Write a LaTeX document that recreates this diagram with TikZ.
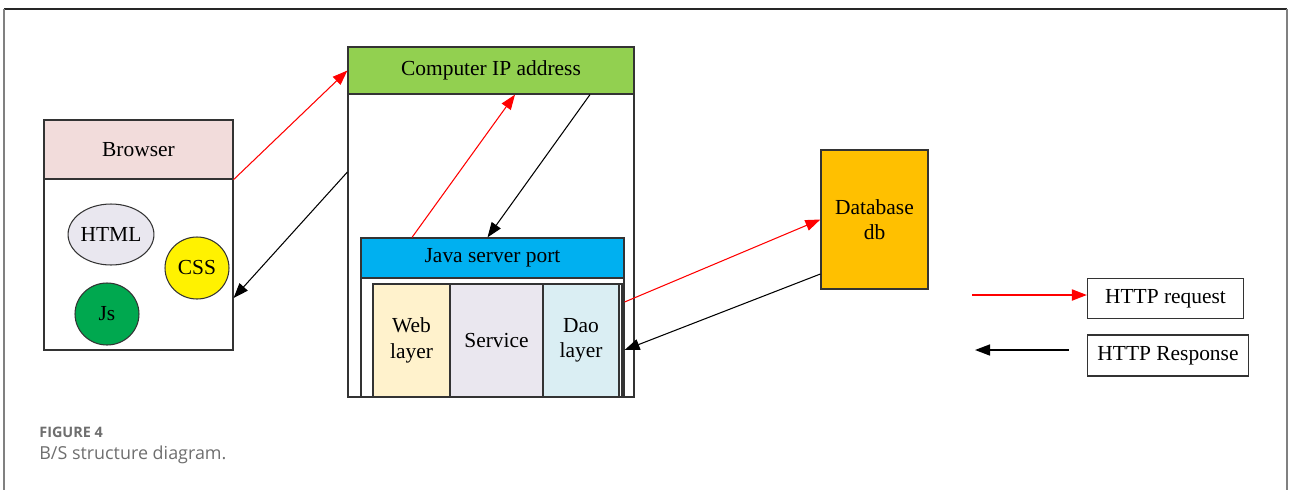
\documentclass[tikz,border=0pt]{standalone}
\usepackage{fontspec}
\setmainfont{Liberation Serif}
\newfontfamily\capfont{Open Sans}
\usetikzlibrary{shapes.geometric,arrows.meta}
\definecolor{brpink}{HTML}{F2DCDB}
\definecolor{ipgreen}{HTML}{92D050}
\definecolor{javablue}{HTML}{00B0F0}
\definecolor{webyellow}{HTML}{FFF2CC}
\definecolor{svclilac}{HTML}{EAE7EF}
\definecolor{daoblue}{HTML}{DAEEF3}
\definecolor{dbgold}{HTML}{FFC000}
\definecolor{htmlgray}{HTML}{E9E7EF}
\definecolor{jsgreen}{HTML}{00A84F}
\definecolor{capgray}{HTML}{6E6E6E}
\begin{document}
\begin{tikzpicture}[x=0.02cm,y=-0.02cm,
  font=\fontsize{12.2}{14.5}\selectfont,
  box/.style={draw=black!80,line width=0.7pt,inner sep=0pt,align=center},
  blob/.style={ellipse,draw=black!80,line width=0.6pt,inner sep=0pt},
  reqline/.style={red,line width=0.6pt,-{Triangle[length=0.3cm,width=0.22cm]}},
  respline/.style={black,line width=0.6pt,-{Triangle[length=0.3cm,width=0.22cm]}}]
\useasboundingbox (0,0) rectangle (1290,490);

\draw[black!85,line width=1pt] (4,9) -- (1287,9); %frame top
\draw[gray,line width=1pt] (4,9) -- (4,490); %frame left
\draw[gray,line width=1pt] (1287,9) -- (1287,490); %frame right

% browser
\node[box,minimum width=3.78cm,minimum height=4.6cm] (browser) at (138.5,235) {};
\node[box,fill=brpink,minimum width=3.78cm,minimum height=1.18cm] (brhead) at (138.5,149.5) {Browser};
\node[blob,fill=htmlgray,minimum width=1.52cm,minimum height=1.22cm] (html) at (111,234.5) {HTML};
\node[blob,fill=yellow,minimum width=1.28cm,minimum height=1.24cm] (css) at (197,268) {CSS};
\node[blob,fill=jsgreen,minimum width=1.28cm,minimum height=1.24cm] (js) at (107,314) {Js};

% computer
\node[box,minimum width=5.72cm,minimum height=7cm] (comp) at (491,222) {};
\node[box,fill=ipgreen,minimum width=5.72cm,minimum height=0.94cm] (iphead) at (491,70.5) {Computer IP address};

% java server
\node[box,fill=white,minimum width=5.26cm,minimum height=3.18cm] (java) at (492.5,317.5) {};
\node[box,fill=javablue,minimum width=5.26cm,minimum height=0.8cm] (javahead) at (492.5,258) {Java server port};
\node[box,minimum width=4.98cm,minimum height=2.26cm] (layers) at (497.5,340.5) {};
\node[box,fill=webyellow,minimum width=1.54cm,minimum height=2.26cm] (web) at (411.5,340.5) {Web\\layer};
\node[box,fill=svclilac,minimum width=1.86cm,minimum height=2.26cm] (service) at (496.5,340.5) {Service};
\node[box,fill=daoblue,minimum width=1.52cm,minimum height=2.26cm] (dao) at (581,340.5) {Dao\\layer};

% database
\node[box,fill=dbgold,minimum width=2.14cm,minimum height=2.78cm] (db) at (874.5,219.5) {Database\\db};

% legend
\node[box,minimum width=3.12cm,minimum height=0.8cm] (reqbox) at (1165.5,298.5) {HTTP request};
\node[box,minimum width=3.22cm,minimum height=0.82cm] (respbox) at (1168,355.5) {HTTP Response};
\coordinate (reqtail) at (972,295);
\coordinate (resphead) at (975,350);

% requests and responses
\draw[reqline] (brhead.south east) -- (iphead.west);
\draw[respline] ([yshift=1cm]comp.west) -- ([yshift=-1.26cm]browser.east);
\draw[reqline] ([xshift=-1.61cm]javahead.north) -- ([xshift=0.48cm]iphead.south);
\draw[respline] ([xshift=1.98cm]iphead.south) -- ([xshift=-0.1cm]javahead.north);
\draw[reqline] ([yshift=0.31cm]java.east) -- (db.west);
\draw[respline] ([yshift=-1.09cm]db.west) -- ([yshift=-0.65cm]java.east);

\draw[reqline,line width=1.1pt] (reqtail) -- (reqtail -| reqbox.west);
\draw[respline,line width=0.9pt] ([xshift=-0.36cm]respbox.west |- resphead) -- (resphead);

% caption
\node[anchor=west,inner sep=0pt,text=capgray] (fignum) at (39,432) {\capfont\bfseries\fontsize{8.2}{10}\selectfont FIGURE 4};
\node[anchor=west,inner sep=0pt,text=capgray] (figtitle) at (39,455) {\capfont\fontsize{10.2}{12}\selectfont B/S structure diagram.};
\end{tikzpicture}
\end{document}
